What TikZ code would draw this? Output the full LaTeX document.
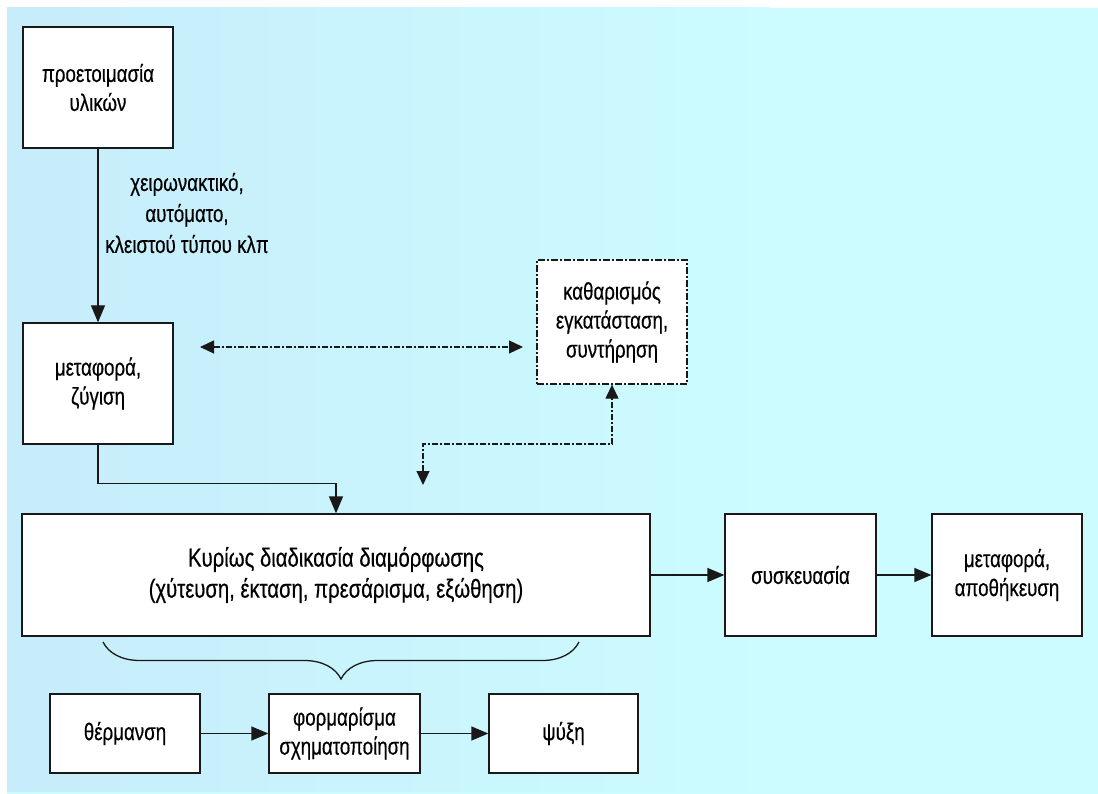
\documentclass[tikz,border=0pt]{standalone}
\usepackage{fontspec}
\setmainfont{Liberation Sans}[FakeStretch=0.78,FakeBold=0.4]
\usepackage{tikz}
\usetikzlibrary{arrows.meta,decorations.pathreplacing}

\definecolor{bgleft}{RGB}{199,236,251}
\definecolor{bgright}{RGB}{204,252,255}
\definecolor{edge}{RGB}{25,25,25}

\tikzset{
	box/.style={draw=edge,line width=1.3pt,fill=white,inner sep=0pt,align=center,
		font=\fontsize{24}{29}\selectfont},
	dashbox/.style={box,dash pattern=on 7pt off 2pt on 2pt off 2pt},
	arr/.style={draw=edge,line width=1.3pt,-{Triangle[length=17pt,width=14pt]}},
	dasharr/.style={draw=edge,line width=1.2pt,dash pattern=on 6pt off 2pt on 2pt off 2pt,
		{Triangle[length=14pt,width=13pt]}-{Triangle[length=14pt,width=13pt]}},
}

\begin{document}
\begin{tikzpicture}[x=1pt,y=-1pt]
				\useasboundingbox (0,0) rectangle (1098,794);
				\fill[white] (0,0) rectangle (1098,794);
				\fill[bgright] (7,8) rectangle (1098,794);
				\shade[left color=bgleft,right color=bgright] (7,8) rectangle (770,791);
				% boxes
				\node[box,minimum width=150pt,minimum height=121pt] (prep) at (98,87.5) {προετοιμασία\\υλικών};
				\node[box,minimum width=150pt,minimum height=121pt] (weigh) at (98,383.5) {μεταφορά,\\ζύγιση};
				\node[dashbox,minimum width=150pt,minimum height=124pt] (clean) at (612,322) {καθαρισμός\\εγκατάσταση,\\συντήρηση};
				\node[box,minimum width=628pt,minimum height=122pt,font=\fontsize{26}{31}\selectfont] (main) at (336,575)
					{Κυρίως διαδικασία διαμόρφωσης\\(χύτευση, έκταση, πρεσάρισμα, εξώθηση)};
				\node[box,minimum width=151pt,minimum height=122pt] (pack) at (800.5,575) {συσκευασία};
				\node[box,minimum width=150pt,minimum height=122pt] (store) at (1007,575) {μεταφορά,\\αποθήκευση};
				\node[box,minimum width=150pt,minimum height=79pt] (heat) at (125,733.5) {θέρμανση};
				\node[box,minimum width=151pt,minimum height=79pt] (form) at (344.5,733.5) {φορμαρίσμα\\σχηματοποίηση};
				\node[box,minimum width=149pt,minimum height=79pt] (cool) at (563.5,733.5) {ψύξη};
				\node[align=center,font=\fontsize{24}{31}\selectfont] (way) at (187,213) {χειρωνακτικό,\\αυτόματο,\\κλειστού τύπου κλπ};
				% connectors
				\draw[arr] (prep) -- (weigh);
				\draw[arr] (weigh.south) -- ++(0,39) -| (main.north);
				\draw[arr] (main) -- (pack);
				\draw[arr] (pack) -- (store);
				\draw[arr] (heat) -- (form);
				\draw[arr] (form) -- (cool);
				\coordinate (dl) at (200,347);
				\coordinate (dr) at (523,347);
				\draw[dasharr] (dl) -- (dr);
				\coordinate (dd) at (423,485);
				\draw[dasharr] (dd) -- (423,444) -| (clean.south);
				\draw[draw=edge,line width=1.3pt,decorate,decoration={brace,mirror,amplitude=37pt}] (103,642) -- (579,642);
			\end{tikzpicture}
\end{document}
